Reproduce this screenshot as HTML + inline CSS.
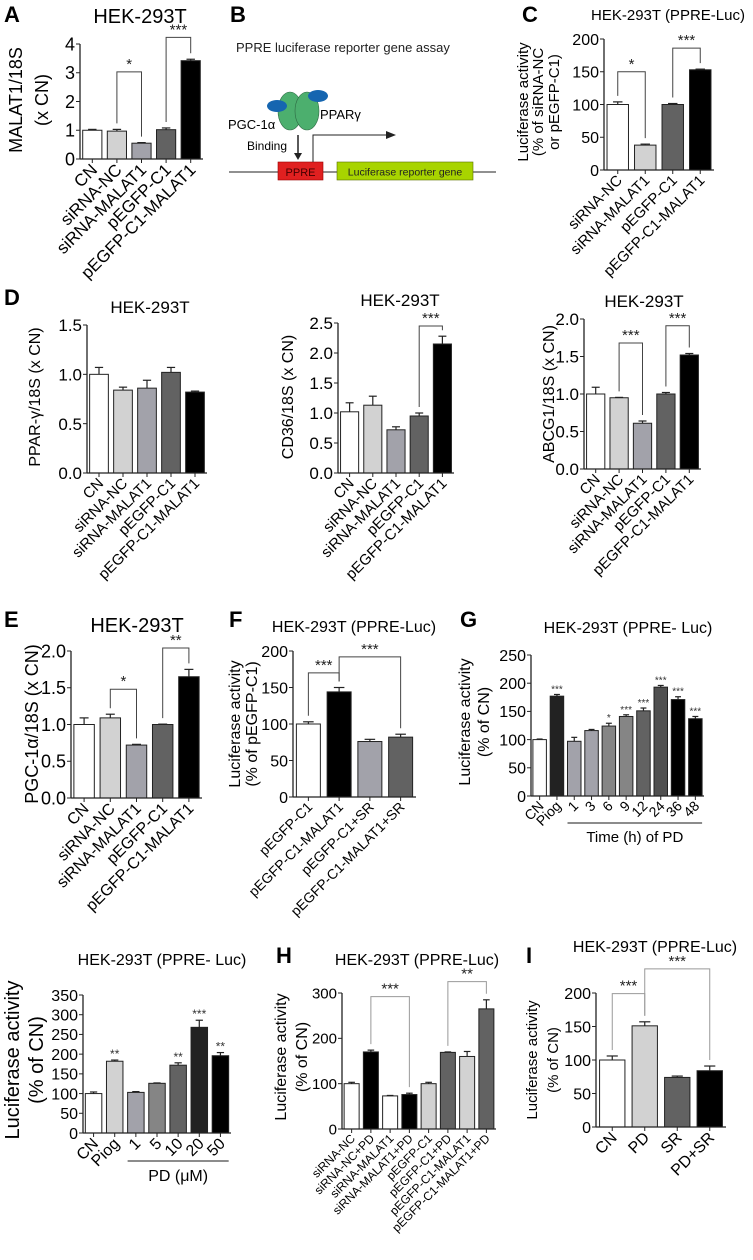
<!DOCTYPE html>
<html><head><meta charset="utf-8"><style>
html,body{margin:0;padding:0;background:#fff;}
svg{display:block;font-family:"Liberation Sans",sans-serif;}
</style></head><body>
<svg id="fig" width="753" height="1260" viewBox="0 0 753 1260" xmlns="http://www.w3.org/2000/svg">
<g>
<text x="230" y="22" font-size="22" font-weight="bold">B</text>
<text x="236" y="52" font-size="13" fill="#222">PPRE luciferase reporter gene assay</text>
<ellipse cx="290" cy="111" rx="12" ry="19" fill="#4caf6e" stroke="#2e6b44" stroke-width="0.6"/>
<ellipse cx="307" cy="111" rx="12" ry="19" fill="#4caf6e" stroke="#2e6b44" stroke-width="0.6"/>
<ellipse cx="277" cy="106" rx="10" ry="6" fill="#1565b0"/>
<ellipse cx="318" cy="96" rx="10" ry="6" fill="#1565b0"/>
<text x="228" y="129" font-size="13">PGC-1α</text>
<text x="320" y="119" font-size="13">PPARγ</text>
<text x="247" y="150" font-size="12">Binding</text>
<line x1="298" y1="135" x2="298" y2="156" stroke="#222" stroke-width="1.5"/>
<polygon points="294,153 302,153 298,160" fill="#222"/>
<line x1="229" y1="172" x2="496" y2="172" stroke="#222" stroke-width="1"/>
<rect x="278" y="162" width="45" height="18" fill="#e02020" stroke="#900" stroke-width="0.6"/>
<text x="300.5" y="176" font-size="11" text-anchor="middle" fill="#400">PPRE</text>
<rect x="337" y="162" width="136" height="18" fill="#a8d400" stroke="#5a7000" stroke-width="0.6"/>
<text x="405" y="175.5" font-size="10.5" text-anchor="middle" fill="#222">Luciferase reporter gene</text>
<polyline points="313,162 313,135 390,135" fill="none" stroke="#222" stroke-width="1"/>
<polygon points="386,131 396,135 386,139" fill="#222"/>
</g>
<g id="charts"></g>
</svg>
<script>
const aCats=["CN","siRNA-NC","siRNA-MALAT1","pEGFP-C1","pEGFP-C1-MALAT1"];
const aVals=[1.0,0.97,0.55,1.02,3.42];
const aErrs=[0.03,0.06,0.02,0.06,0.05];
const aTicks=[0,1,2,3,4];

const cCats=["siRNA-NC","siRNA-MALAT1","pEGFP-C1","pEGFP-C1-MALAT1"];
const cVals=[100,38,100,153];
const cErrs=[4,1.5,1.5,1];
const cTicks=[0,50,100,150,200];

const dCats=["CN","siRNA-NC","siRNA-MALAT1","pEGFP-C1","pEGFP-C1-MALAT1"];
const d1Vals=[1.0,0.84,0.86,1.02,0.82];
const d1Errs=[0.07,0.03,0.08,0.05,0.01];
const d1Ticks=[0,0.5,1.0,1.5];
const d2Vals=[1.02,1.13,0.72,0.95,2.15];
const d2Errs=[0.15,0.15,0.05,0.05,0.13];
const d2Ticks=[0,0.5,1.0,1.5,2.0,2.5];
const d3Vals=[1.0,0.95,0.61,1.0,1.52];
const d3Errs=[0.09,0.005,0.03,0.02,0.02];
const d3Ticks=[0,0.5,1.0,1.5,2.0];

const eVals=[1.0,1.09,0.72,1.0,1.65];
const eErrs=[0.09,0.05,0.01,0.005,0.1];
const eTicks=[0,0.5,1.0,1.5,2.0];

const fCats=["pEGFP-C1","pEGFP-C1-MALAT1","pEGFP-C1+SR","pEGFP-C1-MALAT1+SR"];
const fVals=[100,144,76,82];
const fErrs=[3,6,3,4];
const fTicks=[0,50,100,150,200];

const gCats=["CN","Piog","1","3","6","9","12","24","36","48"];
const gVals=[100,177,97,116,124,141,151,193,171,137];
const gErrs=[1,3,7,2,5,3,5,3,5,4];
const gStars=["","***","","","*","***","***","***","***","***"];
const gTicks=[0,50,100,150,200,250];

const pCats=["CN","Piog","1","5","10","20","50"];
const pVals=[100,182,103,126,172,268,196];
const pErrs=[4,3,2,1,6,18,8];
const pStars=["","**","","","**","***","**"];
const pTicks=[0,50,100,150,200,250,300,350];

const hCats=["siRNA-NC","siRNA-NC+PD","siRNA-MALAT1","siRNA-MALAT1+PD","pEGFP-C1","pEGFP-C1+PD","pEGFP-C1-MALAT1","pEGFP-C1-MALAT1+PD"];
const hVals=[100,170,73,76,100,169,160,265];
const hErrs=[3,4,1,3,3,1,11,20];
const hTicks=[0,100,200,300];

const iCats=["CN","PD","SR","PD+SR"];
const iVals=[100,151,74,84];
const iErrs=[6,6,2,7];
const iTicks=[0,50,100,150,200];

const NS="http://www.w3.org/2000/svg";
const root=document.getElementById('charts');
function mk(tag,attrs,parent){const e=document.createElementNS(NS,tag);for(const k in attrs)e.setAttribute(k,attrs[k]);(parent||root).appendChild(e);return e;}
function txt(s,attrs,parent){const e=mk('text',attrs,parent);e.textContent=s;return e;}

const W='#ffffff',L='#d2d2d2',M='#a2a2aa',D='#626262',DD='#505050',K='#000000',B2='#222222',G8='#858585';

function panel(p){
  const g=mk('g',{});
  
  
  const ymax=p.ticks[p.ticks.length-1];
  const ys=v=>p.y0-(v/ymax)*(p.y0-p.y1);
  const n=p.cats.length, step=(p.x1-p.x0)/n, bw=step*0.78;
  const xc=i=>p.x0+(i+0.5)*step;
  if(p.letter){const t=txt(p.letter,{x:p.lx,y:p.ly,'font-size':22,'font-weight':'bold'},g);
    
    }
  const tt=txt(p.title,{x:p.tx,y:p.ty,'font-size':p.tfs,'text-anchor':'middle'},g);
  
  
  p.ylab.forEach((s,k)=>{const t=txt(s,{x:0,y:0,'font-size':p.yfs,'text-anchor':'middle',transform:`translate(${p.ylx[k]},${p.yly}) rotate(-90)`},g);
    
    });
  p.vals.forEach((v,i)=>{
    const r=mk('rect',{x:xc(i)-bw/2,y:ys(v),width:bw,height:p.y0-ys(v),fill:p.colors[i],stroke:'#222','stroke-width':1},g);
    
    
    const top=ys(v+p.errs[i]);
    mk('line',{x1:xc(i),y1:ys(v),x2:xc(i),y2:top,stroke:'#222','stroke-width':1.2},g);
    mk('line',{x1:xc(i)-bw*0.22,y1:top,x2:xc(i)+bw*0.22,y2:top,stroke:'#222','stroke-width':1.2},g);
    if(p.stars&&p.stars[i]){const s=txt(p.stars[i],{x:xc(i),y:top-2,'font-size':p.sfs,'text-anchor':'middle',fill:'#333'},g);
      
      }
  });
  mk('line',{x1:p.x0,y1:p.y0,x2:p.x1,y2:p.y0,stroke:'#222','stroke-width':1.3},g);
  mk('line',{x1:p.x0,y1:p.y0,x2:p.x0,y2:p.y1,stroke:'#222','stroke-width':1.3},g);
  p.ticks.forEach(t=>{const y=ys(t);
    mk('line',{x1:p.x0-4,y1:y,x2:p.x0,y2:y,stroke:'#222','stroke-width':1},g);
    const l=txt(p.dec?t.toFixed(p.dec):String(t),{x:p.x0-5,y:y+p.kfs*0.36,'font-size':p.kfs,'text-anchor':'end'},g);
    
    });
  p.cats.forEach((c,i)=>{
    mk('line',{x1:xc(i),y1:p.y0,x2:xc(i),y2:p.y0+4,stroke:'#222','stroke-width':1},g);
    const l=txt(c,{x:0,y:0,'font-size':p.xfs,'text-anchor':'end',transform:`translate(${xc(i)+p.xfs*0.35},${p.y0+6+p.xfs*0.35}) rotate(-45)`},g);
    
    });
  (p.br||[]).forEach(b=>{const [i,j,lv,lab]=b; const yb=ys(lv);
    const yi=ys(p.vals[i]+p.errs[i])-6, yj=ys(p.vals[j]+p.errs[j])-6;
    mk('polyline',{points:`${xc(i)},${yi} ${xc(i)},${yb} ${xc(j)},${yb} ${xc(j)},${yj}`,fill:'none',stroke:p.bc||'#444','stroke-width':1},g);
    const s=txt(lab,{x:(xc(i)+xc(j))/2,y:yb-3,'font-size':p.bfs||15,'text-anchor':'middle',fill:'#222'},g);
    
    });
  if(p.under){const u=p.under; mk('line',{x1:xc(u.a)-bw/2,y1:u.y,x2:xc(u.b)+bw/2,y2:u.y,stroke:'#666','stroke-width':1.5},g);
    const s=txt(u.text,{x:(xc(u.a)+xc(u.b))/2,y:u.y+u.fs+4,'font-size':u.fs,'text-anchor':'middle'},g);
    
    }
}

panel({name:'panel-a-malat1',letter:'A',lx:4,ly:22,title:'HEK-293T',tx:140,ty:23,tfs:20,ylab:['MALAT1/18S','(x CN)'],ylx:[22,48],yly:100,yfs:18,
 x0:80,x1:203,y0:159,y1:44,cats:aCats,vals:aVals,errs:aErrs,ticks:aTicks,colors:[W,L,M,D,K],kfs:18,xfs:17,
 br:[[1,2,3.03,'*'],[3,4,4.23,'***']]});
panel({name:'panel-c-luciferase',letter:'C',lx:522,ly:22,title:'HEK-293T (PPRE-Luc)',tx:668,ty:20,tfs:15,ylab:['Luciferase activity','(% of siRNA-NC','or pEGFP-C1)'],ylx:[528,543,559],yly:102,yfs:15,
 x0:604,x1:714,y0:170,y1:39,cats:cCats,vals:cVals,errs:cErrs,ticks:cTicks,colors:[W,L,D,K],kfs:16,xfs:15,
 br:[[0,1,150,'*'],[2,3,186,'***']]});
panel({name:'panel-d-ppar',letter:'D',lx:4,ly:305,title:'HEK-293T',tx:150,ty:313,tfs:17,ylab:['PPAR-γ/18S (x CN)'],ylx:[40],yly:397,yfs:16,
 x0:87,x1:207,y0:473,y1:325,cats:dCats,vals:d1Vals,errs:d1Errs,ticks:d1Ticks,dec:1,colors:[W,L,M,D,K],kfs:17,xfs:15,});
panel({name:'panel-d-cd36',title:'HEK-293T',tx:400,ty:306,tfs:17,ylab:['CD36/18S (x CN)'],ylx:[293],yly:397,yfs:16,
 x0:338,x1:454,y0:473,y1:323,cats:dCats,vals:d2Vals,errs:d2Errs,ticks:d2Ticks,dec:1,colors:[W,L,M,D,K],kfs:17,xfs:15,
 br:[[3,4,2.45,'***']]});
panel({name:'panel-d-abcg1',title:'HEK-293T',tx:644,ty:307,tfs:17,ylab:['ABCG1/18S (x CN)'],ylx:[554],yly:394,yfs:16,
 x0:584,x1:701,y0:469,y1:319,cats:dCats,vals:d3Vals,errs:d3Errs,ticks:d3Ticks,dec:1,colors:[W,L,M,D,K],kfs:17,xfs:15,
 br:[[1,2,1.68,'***'],[3,4,1.91,'***']]});
panel({name:'panel-e-pgc1a',letter:'E',lx:4,ly:627,title:'HEK-293T',tx:137,ty:632,tfs:20,ylab:['PGC-1α/18S (x CN)'],ylx:[38],yly:724,yfs:18,
 x0:71,x1:202,y0:798,y1:651,cats:dCats,vals:eVals,errs:eErrs,ticks:eTicks,dec:1,colors:[W,L,M,D,K],kfs:18,xfs:16,
 br:[[1,2,1.48,'*'],[3,4,2.04,'**']]});
panel({name:'panel-f-luciferase',letter:'F',lx:229,ly:627,title:'HEK-293T (PPRE-Luc)',tx:354,ty:632,tfs:16,ylab:['Luciferase activity','(% of pEGFP-C1)'],ylx:[240,257],yly:724,yfs:16,
 x0:293,x1:416,y0:797,y1:651,cats:fCats,vals:fVals,errs:fErrs,ticks:fTicks,colors:[W,K,M,D],kfs:16,xfs:14,
 br:[[0,1,170,'***'],[1,3,192,'***']]});
panel({name:'panel-g-time-course',letter:'G',lx:460,ly:627,title:'HEK-293T (PPRE- Luc)',tx:628,ty:633,tfs:16,ylab:['Luciferase activity','(% of CN)'],ylx:[470,489],yly:722,yfs:16,
 x0:531,x1:704,y0:796,y1:655,cats:gCats,vals:gVals,errs:gErrs,ticks:gTicks,colors:[W,B2,M,M,G8,G8,D,DD,K,K],kfs:16,xfs:14,stars:gStars,sfs:10,
 under:{a:2,b:9,y:823,text:'Time (h) of PD',fs:15}});
panel({name:'panel-pd-dose',title:'HEK-293T (PPRE- Luc)',tx:162,ty:965,tfs:16,ylab:['Luciferase activity','(% of CN)'],ylx:[19,43],yly:1060,yfs:20,
 x0:83,x1:231,y0:1133,y1:995,cats:pCats,vals:pVals,errs:pErrs,ticks:pTicks,colors:[W,L,M,G8,D,B2,K],kfs:16,xfs:16,stars:pStars,sfs:12,
 under:{a:2,b:6,y:1161,text:'PD (μM)',fs:16}});
panel({name:'panel-h-luciferase',letter:'H',lx:276,ly:963,title:'HEK-293T (PPRE-Luc)',tx:417,ty:965,tfs:16,ylab:['Luciferase activity','(% of CN)'],ylx:[286,307],yly:1057,yfs:16,
 x0:342,x1:496,y0:1129,y1:993,cats:hCats,vals:hVals,errs:hErrs,ticks:hTicks,colors:[W,K,W,K,L,D,L,D],kfs:15,xfs:12,bc:'#999',
 br:[[1,3,292,'***'],[5,7,325,'**']]});
panel({name:'panel-i-luciferase',letter:'I',lx:526,ly:963,title:'HEK-293T (PPRE-Luc)',tx:655,ty:952,tfs:16,ylab:['Luciferase activity','(% of CN)'],ylx:[537,558],yly:1060,yfs:15,
 x0:596,x1:726,y0:1127,y1:993,cats:iCats,vals:iVals,errs:iErrs,ticks:iTicks,colors:[W,L,D,K],kfs:16,xfs:16,bc:'#999',
 br:[[0,1,199,'***'],[1,3,236,'***']]});
</script>
</body></html>
